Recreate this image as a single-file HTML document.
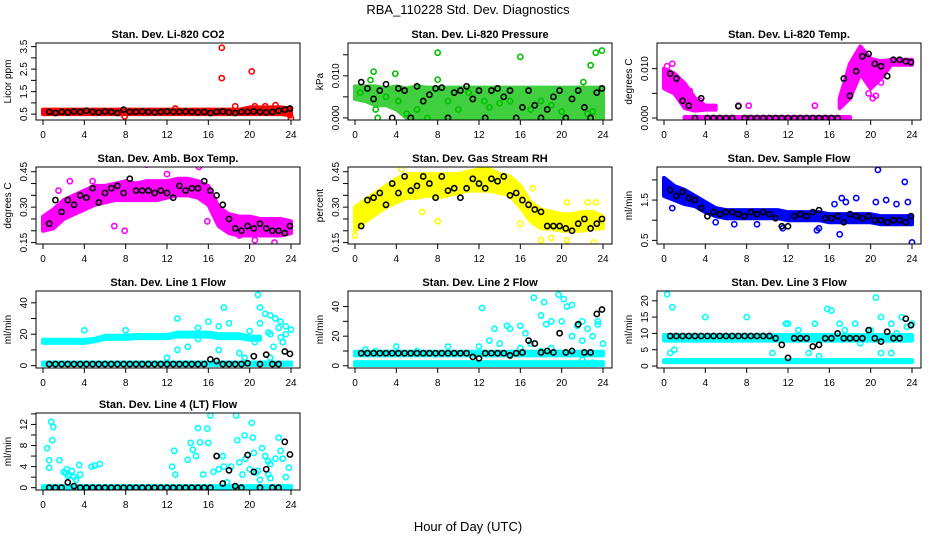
<!DOCTYPE html>
<html><head><meta charset="utf-8"><style>
html,body{margin:0;padding:0;background:#fff;}
svg{display:block;font-family:"Liberation Sans",Arial,sans-serif;}
</style></head><body>
<svg id="chart" width="936" height="540" viewBox="0 0 936 540">
<text x="468" y="14" text-anchor="middle" font-size="13">RBA_110228  Std. Dev. Diagnostics</text>
<text x="468" y="531" text-anchor="middle" font-size="13">Hour of Day (UTC)</text>
</svg>
<script>
const HOURS=[0,1,2,3,4,5,6,7,8,9,10,11,12,13,14,15,16,17,18,19,20,21,22,23,24];
const BT=[0.6,1.2,1.8,2.4,3.0,3.6,4.2,4.8,5.4,6.0,6.6,7.2,7.8,8.4,9.0,9.6,10.2,10.8,11.4,12.0,12.6,13.2,13.8,14.4,15.0,15.6,16.2,16.8,17.4,18.0,18.6,19.2,19.8,20.4,21.0,21.6,22.2,22.8,23.4,23.9];
const X_TICKS=[0,4,8,12,16,20,24];

// ---- CO2 ----
const co2Lo=[.5,.5,.5,.5,.5,.5,.5,.5,.5,.5,.5,.5,.5,.5,.5,.5,.5,.5,.5,.5,.5,.5,.5,.5,.45];
const co2Hi=[.7,.7,.7,.7,.7,.7,.7,.7,.7,.7,.7,.7,.7,.7,.7,.7,.7,.7,.7,.7,.8,.8,.8,.8,.75];
const co2ScX=[17.3,17.3,20.2,18.6,12.8,23.9,24,20.5,21.5,22.5,7.9];
const co2ScY=[3.45,2.1,2.4,0.85,0.75,0.45,0.3,0.85,0.85,0.9,0.4];
const co2Black=[.6,.55,.6,.58,.62,.6,.65,.6,.58,.62,.6,.55,.7,.6,.6,.62,.6,.58,.6,.62,.6,.6,.62,.6,.58,.6,.55,.6,.62,.58,.55,.6,.6,.62,.6,.58,.6,.65,.7,.75];
// ---- Pressure ----
const presLo=[.0045,.004,.003,.003,.002,0,0,0,0,0,0,0,0,0,0,0,0,0,0,0,0,0,0,0,0];
const presHi=[.0075,.0075,.0075,.007,.0075,.007,.0075,.0072,.0072,.0072,.0072,.0072,.0072,.0072,.0072,.0072,.0072,.0072,.0072,.0072,.0072,.0072,.0072,.0072,.0072];
const presScX=[0.5,1.5,1.8,2,2.2,3,3.9,4.2,5,6,7,8,8,9,10,11,12.5,13,14,15,16,17,18,19,20,21,22.1,22.8,23.3,23.9,22.5,23];
const presScY=[.006,.009,.011,.002,0,.005,.0105,.004,.001,.002,0,.0155,.0091,.004,.002,.006,.004,.0025,.0035,.004,.0145,.002,.004,.003,.0015,.0045,.0085,.0125,.0155,.016,.001,.0015];
const presBlack=[.0085,.007,.0045,.0065,.008,0,.007,.0065,0,.0075,.004,.0055,.007,.0072,0,.006,.0065,.0075,.0045,.0065,0,.0065,.007,.005,.0065,0,.0025,.0065,.003,0,.002,.005,.0065,0,.0045,.0065,.0025,0,.006,.007];
// ---- Li-820 Temp ----
const tmpLo=[.006,.005,.002,.0015,.0017,.0017,null,null,null,null,null,null,null,null,null,null,null,.002,.004,.009,.006,.008,.0108,.0108,.0108];
const tmpHi=[.010,.009,.007,.004,.0025,.0025,null,null,null,null,null,null,null,null,null,null,null,.004,.011,.0145,.012,.0115,.0118,.0118,.0118];
const tmpLo2=[null,null,-.0002,-.0002,-.0002,-.0002,-.0002,-.0002,-.0002,-.0002,-.0002,-.0002,-.0002,-.0002,-.0002,-.0002,-.0002,-.0002,-.0002,null,null,null,null,null,null];
const tmpHi2=[null,null,.0002,.0002,.0002,.0002,.0002,.0002,.0002,.0002,.0002,.0002,.0002,.0002,.0002,.0002,.0002,.0002,.0002,null,null,null,null,null,null];
const tmpScX=[19.8,20.2,20.5,21,14.6,8.2,7.2,0.8,0.3,2.5,3.5];
const tmpScY=[.005,.004,.0045,.0072,.0025,.0025,.0025,.011,.0105,.0055,.0035];
const tmpBlack=[.009,.008,.0035,.0025,0,.004,0,0,0,0,0,.0024,0,0,0,0,0,0,0,0,0,0,0,0,0,0,0,0,.008,.0045,.0095,.0125,.013,.011,.0105,.0085,.0118,.0118,.0115,.0113];
// ---- Amb Box Temp ----
const ambLo=[.20,.21,.25,.27,.29,.31,.32,.33,.33,.33,.33,.33,.34,.35,.35,.34,.31,.22,.19,.18,.18,.18,.18,.18,.19];
const ambHi=[.26,.29,.33,.35,.37,.39,.39,.40,.41,.40,.41,.41,.41,.42,.42,.41,.39,.30,.27,.26,.26,.25,.25,.25,.24];
const ambScX=[0.5,1.5,2.6,6.9,7.9,10,15.1,15.9,19,20.5,22.4,4.8,12];
const ambScY=[.22,.37,.41,.22,.20,.48,.47,.24,.18,.16,.15,.41,.44];
const ambBlack=[.23,.33,.28,.33,.31,.35,.34,.38,.32,.36,.38,.39,.36,.42,.37,.37,.37,.36,.37,.36,.34,.39,.37,.38,.38,.41,.37,.35,.31,.25,.21,.20,.22,.21,.23,.21,.20,.20,.19,.22];
// ---- Gas Stream RH ----
const rhLo=[.20,.24,.27,.30,.32,.34,.34,.35,.34,.35,.36,.37,.37,.37,.36,.35,.30,.24,.21,.21,.20,.20,.20,.21,.21];
const rhHi=[.30,.33,.36,.39,.42,.44,.44,.44,.44,.44,.44,.45,.46,.46,.44,.43,.39,.32,.29,.28,.27,.27,.28,.28,.26];
const rhScX=[0,4.5,6.5,8,16,18,19,20.5,22.5,23.3,23.1,20.5,17.2];
const rhScY=[.18,.46,.28,.24,.23,.16,.17,.16,.32,.32,.15,.32,.38];
const rhBlack=[.22,.33,.34,.36,.31,.40,.36,.43,.37,.39,.43,.40,.34,.43,.37,.38,.34,.38,.42,.40,.38,.42,.41,.43,.35,.36,.33,.31,.29,.28,.22,.22,.22,.21,.20,.23,.25,.21,.23,.25];
// ---- Sample Flow ----
const sfLo=[1.6,1.5,1.4,1.35,1.2,1.1,1.05,1.05,1.05,1.05,1.05,1.05,1.0,1.0,1.0,1.0,.95,.95,.95,.95,.95,.9,.9,.9,.9];
const sfHi=[2.05,1.85,1.75,1.6,1.45,1.3,1.25,1.25,1.25,1.25,1.25,1.25,1.2,1.2,1.2,1.2,1.15,1.15,1.15,1.15,1.15,1.1,1.1,1.1,1.1];
const sfScX=[20.7,23.3,24,17.2,17.6,18.6,20.5,21.5,22.5,23.6,14.8,11.5,15,9,17,2,0.8,6.8,5,16.5];
const sfScY=[2.25,1.95,.45,1.55,1.45,1.55,1.45,1.5,1.4,1.45,.75,.8,.8,.9,.65,1.55,1.3,.9,.95,1.4];
const sfBlack=[1.75,1.6,1.7,1.55,1.5,1.3,1.1,1.2,1.15,1.2,1.2,1.15,1.1,1.2,1.15,1.2,1.15,1.05,.85,.85,1.1,1.15,1.1,1.2,1.25,1.05,1.05,1.1,.95,1.15,1.1,1.05,1.1,1.0,1.0,.95,1.0,1.0,.95,1.1];
// ---- Line 1 ----
const l1Lo=[14.5,14.5,14.5,14.5,14.5,15.5,17,17,17,17.5,17.5,17.5,17.5,18.5,18.5,18.5,18.5,17.5,17.5,17.5,16.5,16.5,null,null,null];
const l1Hi=[16.5,16.5,16.5,16.5,16.5,17,19,19,19,19.5,19.5,19.5,19.5,21,21,21,21,20,20,20,18.5,18.5,null,null,null];
const l1Lo2=[.5,.5,.5,.5,.5,.5,.5,.5,.5,.5,.5,.5,.5,.5,.5,.5,.5,.5,.5,.5,.5,.5,.5,.5,.5];
const l1Hi2=[2,2,2,2,2,2,2,2,2,2,2,2,2,2,2,2,2,2,2,2,2,2,2,2,2];
const l1ScX=[4,8,13,15,16,17,17.5,18,20.8,21,21.5,22,22.5,23,23.5,24,22,23,22.3,20,14,12,13,15,19,19.5,17,22,23.5,21,22.8,23.2,21.8,20.5];
const l1ScY=[22.5,22.5,30,24,28,25,37,27,45,37,33,32,30,28,25,23,20,18,12,22,12,5,10,17,8,5,10,5,20,27,24,15,21,15];
const l1Black=[1,1,1,1,1,1,1,1,1,1,1,1,1,1,1,1,1,1,1,1,1,1,1,1,1,1,4,3,1,1,1,1,1.5,6,1,7,1,1,9,7.5];
// ---- Line 2 ----
const l2Lo=[7,7,7,7,7,7,7,7,7,7,7,7,7,7,7,7,7,7,7,7,7,7,7,7,7];
const l2Hi=[9.5,9.5,9.5,9.5,9.5,9.5,9.5,9.5,9.5,9.5,9.5,9.5,9.5,9.5,9.5,9.5,9.5,9.5,9.5,9.5,9.5,9.5,9.5,9.5,9.5];
const l2Lo2=[.5,.5,.5,.5,.5,.5,.5,.5,.5,.5,.5,.5,.5,.5,.5,.5,.5,.5,.5,.5,.5,.5,.5,.5,.5];
const l2Hi2=[2.5,2.5,2.5,2.5,2.5,2.5,2.5,2.5,2.5,2.5,2.5,2.5,2.5,2.5,2.5,2.5,2.5,2.5,2.5,2.5,2.5,2.5,2.5,2.5,2.5];
const l2ScX=[12.3,13.5,14,14.7,15,16,16.5,17.3,18,18.3,18.5,19,19.7,20.2,20.5,21,21.5,22,22.5,23,23.5,24,20,21,22,19,17,13,16,18,20.5,22,23,23.5,12,9,4,1,2,6];
const l2ScY=[39,25,15,27,25,27,22,46,34,43,28,30,48,45,40,41,27,30,25,20,28,15,30,20,17,12,15,17,12,10,8,4,2,30,13,13,13,11,10,10];
const l2Black=[8.5,8.5,8.5,8.5,8.5,8.5,8.5,8.5,8.5,8.5,8.5,8.5,8.5,8.5,8.5,8.5,8.5,8.5,6,5,8.5,8.5,8.5,8.5,7,8.5,9,17,15,9,10,9,22,9,10,28,9,9,35,38];
// ---- Line 3 ----
const l3Lo=[7.8,7.8,7.8,7.8,7.8,7.8,7.8,7.8,7.8,7.8,7.8,7.8,7.8,7.8,7.8,7.8,7.8,7.8,7.8,7.8,7.8,7.8,7.8,7.8,7.8];
const l3Hi=[9.5,9.5,9.5,9.5,9.5,9.5,9.5,9.5,9.5,9.5,9.5,9.5,9.5,9.5,9.5,9.5,9.5,9.5,9.5,9.5,9.5,9.5,9.5,9.5,9.5];
const l3Lo2=[1.2,1.2,1.2,1.2,1.2,1.2,1.2,1.2,1.2,1.2,1.2,1.2,1.2,1.2,1.2,1.2,1.2,1.2,1.2,1.2,1.2,1.2,1.2,1.2,1.2];
const l3Hi2=[1.8,1.8,1.8,1.8,1.8,1.8,1.8,1.8,1.8,1.8,1.8,1.8,1.8,1.8,1.8,1.8,1.8,1.8,1.8,1.8,1.8,1.8,1.8,1.8,1.8];
const l3ScX=[0.3,0.8,4,8,11.8,14.6,15.8,16.2,20.5,17,18.5,21,22,23,0.6,1,10.5,14,15,22,12,19,21,20,22.5,23.5,17.5,13,24];
const l3ScY=[22,18,15,15,13,13,17.5,17,21,13,13,15,13,15,4,5,4,4,3,4,13,7,4,11,10,12,11,11,13];
const l3Black=[9.2,9.2,9.2,9.2,9.2,9.2,9.2,9.2,9.2,9.2,9.2,9.2,9.2,9.2,9.2,9.2,9.2,8.5,6.5,2.5,8.5,8.5,8.5,6,6.5,8.5,8.5,10,8.5,8.5,8.5,8.5,11,8.5,7.5,10.5,8.5,8.5,14.5,12.5];
// ---- Line 4 ----
const l4Lo=[-.1,-.1,-.1,-.1,-.1,-.1,-.1,-.1,-.1,-.1,-.1,-.1,-.1,-.1,-.1,-.1,-.1,-.1,-.1,-.1,-.1,-.1,-.1,-.1,-.1];
const l4Hi=[.3,.3,.3,.3,.3,.3,.3,.3,.3,.3,.3,.3,.3,.3,.3,.3,.3,.3,.3,.3,.3,.3,.3,.3,.3];
const l4ScX=[0.4,0.6,0.6,0.8,1,0.9,1.6,2,2.3,2.5,3,3.5,3.6,4.7,5,5.5,12.5,12.7,12.8,14,14.3,14.5,14.8,15,15.2,15.9,16,16.2,15.5,16.5,17,17.4,17.5,18.7,18.8,19,19.5,19.6,20.2,20.3,20.4,20.8,21.2,21.5,21.8,22,22.5,22.8,23,23.2,23.5,23.8,20,21,22,17.8,19.3,2.2,2.8,3.2,2.4,18.2,20.6,21.8];
const l4ScY=[7.5,5.2,3.8,12.5,11.5,9,5.2,3,3.5,2.5,2,4.3,2.5,4,4.2,4.5,4,7,2.5,5.3,8.5,7.2,6,11.3,8.6,11.2,8.5,13.7,2.5,3,3.5,6,4,13.7,9,4.8,9.9,5.5,12.3,9.5,6.6,3.2,7.5,6,5,4.5,5.5,9.5,7,5.5,2,3.8,3.5,1.5,1.8,1,2.5,2.8,3.2,1.5,2.2,4,2.8,2.5];
const l4Black=[0,0,0,1,.3,0,0,0,0,0,0,0,0,0,0,0,0,0,0,0,0,0,0,0,0,0,0,6,.8,3.3,.3,0,6.2,3,0,3.5,0,0,8.7,6.3];

const panels=[
 {id:'co2',title:'Stan. Dev. Li-820 CO2',yl:'Licor ppm',col:0,row:0,ymin:.24,ymax:3.66,ticks:[.5,1,1.5,2,2.5,3,3.5],labs:['0.5','1.5','2.5','3.5'],color:'#ff0000',op:1,bands:[[co2Lo,co2Hi]],scX:co2ScX,scY:co2ScY,black:co2Black},
 {id:'pressure',title:'Stan. Dev. Li-820 Pressure',yl:'kPa',col:1,row:0,ymin:-.0005,ymax:.0178,ticks:[0,.005,.01,.015],labs:['0.000','0.010'],color:'#00c000',op:.75,bands:[[presLo,presHi]],scX:presScX,scY:presScY,black:presBlack},
 {id:'li820-temp',title:'Stan. Dev. Li-820 Temp.',yl:'degrees C',col:2,row:0,ymin:-.0004,ymax:.0152,ticks:[0,.005,.01],labs:['0.000','0.010'],color:'#ff00ff',op:1,bands:[[tmpLo,tmpHi],[tmpLo2,tmpHi2]],scX:tmpScX,scY:tmpScY,black:tmpBlack},
 {id:'amb-box-temp',title:'Stan. Dev. Amb. Box Temp.',yl:'degrees C',col:0,row:1,ymin:.144,ymax:.47,ticks:[.15,.2,.25,.3,.35,.4,.45],labs:['0.15','0.30','0.45'],color:'#ff00ff',op:1,bands:[[ambLo,ambHi]],scX:ambScX,scY:ambScY,black:ambBlack},
 {id:'gas-stream-rh',title:'Stan. Dev. Gas Stream RH',yl:'percent',col:1,row:1,ymin:.144,ymax:.47,ticks:[.15,.2,.25,.3,.35,.4,.45],labs:['0.15','0.30','0.45'],color:'#ffff00',op:1,bands:[[rhLo,rhHi]],scX:rhScX,scY:rhScY,black:rhBlack},
 {id:'sample-flow',title:'Stan. Dev. Sample Flow',yl:'ml/min',col:2,row:1,ymin:.41,ymax:2.32,ticks:[.5,1,1.5,2],labs:['0.5','1.5'],color:'#0000ff',op:1,bands:[[sfLo,sfHi]],scX:sfScX,scY:sfScY,black:sfBlack},
 {id:'line1-flow',title:'Stan. Dev. Line 1 Flow',yl:'ml/min',col:0,row:2,ymin:-1.5,ymax:47.5,ticks:[0,10,20,30,40],labs:['0','20','40'],color:'#00ffff',op:1,bands:[[l1Lo,l1Hi],[l1Lo2,l1Hi2]],scX:l1ScX,scY:l1ScY,black:l1Black},
 {id:'line2-flow',title:'Stan. Dev. Line 2 Flow',yl:'ml/min',col:1,row:2,ymin:-1.5,ymax:50.5,ticks:[0,10,20,30,40],labs:['0','20','40'],color:'#00ffff',op:1,bands:[[l2Lo,l2Hi],[l2Lo2,l2Hi2]],scX:l2ScX,scY:l2ScY,black:l2Black},
 {id:'line3-flow',title:'Stan. Dev. Line 3 Flow',yl:'ml/min',col:2,row:2,ymin:-.6,ymax:23,ticks:[0,5,10,15,20],labs:['0','5','10','15','20'],color:'#00ffff',op:1,bands:[[l3Lo,l3Hi],[l3Lo2,l3Hi2]],scX:l3ScX,scY:l3ScY,black:l3Black},
 {id:'line4-flow',title:'Stan. Dev. Line 4 (LT) Flow',yl:'ml/min',col:0,row:3,ymin:-.44,ymax:14.17,ticks:[0,2,4,6,8,10,12,14],labs:['0','4','8','12'],color:'#00ffff',op:1,bands:[[l4Lo,l4Hi]],scX:l4ScX,scY:l4ScY,black:l4Black}
];
const COLX=[36,348,657], ROWY=[43,167,291,413], PW=264, PH=77;
const NS='http://www.w3.org/2000/svg';
const svg=document.getElementById('chart');
function mk(tag,attrs,parent){const e=document.createElementNS(NS,tag);for(const k in attrs)e.setAttribute(k,attrs[k]);parent.appendChild(e);return e;}
panels.forEach(p=>{
  const L=COLX[p.col], T=ROWY[p.row], R=L+PW, B=T+PH;
  const xs=h=>L+7+h/24*(PW-16);
  const ys=v=>B-(v-p.ymin)/(p.ymax-p.ymin)*PH;
  const g=mk('g',{},svg);
  
  
  const clip=mk('clipPath',{id:'c-'+p.id},g);
  mk('rect',{x:L,y:T,width:PW,height:PH},clip);
  const plot=mk('g',{'clip-path':'url(#c-'+p.id+')'},g);
  p.bands.forEach((bd,bi)=>{
    const lo=bd[0],hi=bd[1];let seg=[];
    const flush=()=>{if(seg.length>1){const pts=seg.map(i=>xs(HOURS[i])+','+ys(hi[i])).concat(seg.slice().reverse().map(i=>xs(HOURS[i])+','+ys(lo[i])));
      const poly=mk('polygon',{points:pts.join(' '),fill:p.color,stroke:p.color,'stroke-width':4,'stroke-linejoin':'round',opacity:p.op},plot);
      
      }seg=[];};
    HOURS.forEach((h,i)=>{if(lo[i]===null)flush();else seg.push(i);});flush();
  });
  p.scX.forEach((x,i)=>{
    const c=mk('circle',{cx:xs(x),cy:ys(p.scY[i]),r:2.6,fill:'none',stroke:p.color,'stroke-width':1.6},plot);
    
    
  });
  p.black.forEach((v,i)=>{
    const c=mk('circle',{cx:xs(BT[i]),cy:ys(v),r:2.6,fill:'none',stroke:'#000','stroke-width':1.6},plot);
    
    
  });
  const box=mk('rect',{x:L,y:T,width:PW,height:PH,fill:'none',stroke:'#000','stroke-width':1},g);
  
  
  const t=mk('text',{x:(L+R)/2,y:T-5,'text-anchor':'middle','font-size':11,'font-weight':'bold'},g);
  t.textContent=p.title;
  
  
  X_TICKS.forEach(h=>{
    mk('line',{x1:xs(h),x2:xs(h),y1:B,y2:B+5,stroke:'#000'},g);
    const tl=mk('text',{x:xs(h),y:B+18,'text-anchor':'middle','font-size':10},g);
    tl.textContent=h;
    
    
  });
  mk('line',{x1:xs(0),x2:xs(24),y1:B,y2:B,stroke:'#000'},g);
  p.ticks.forEach(v=>{const y=ys(v);if(y<T-1||y>B+1)return;mk('line',{x1:L-5,x2:L,y1:y,y2:y,stroke:'#000'},g);});
  p.labs.forEach(s=>{
    const y=ys(parseFloat(s));
    const tl=mk('text',{x:L-9,y:y,'text-anchor':'middle','font-size':10,transform:'rotate(-90 '+(L-9)+' '+y+')'},g);
    tl.textContent=s;
    
    
  });
  const yl=mk('text',{x:L-25,y:(T+B)/2,'text-anchor':'middle','font-size':10,transform:'rotate(-90 '+(L-25)+' '+((T+B)/2)+')'},g);
  yl.textContent=p.yl;
  
  
});
</script>
</body></html>
